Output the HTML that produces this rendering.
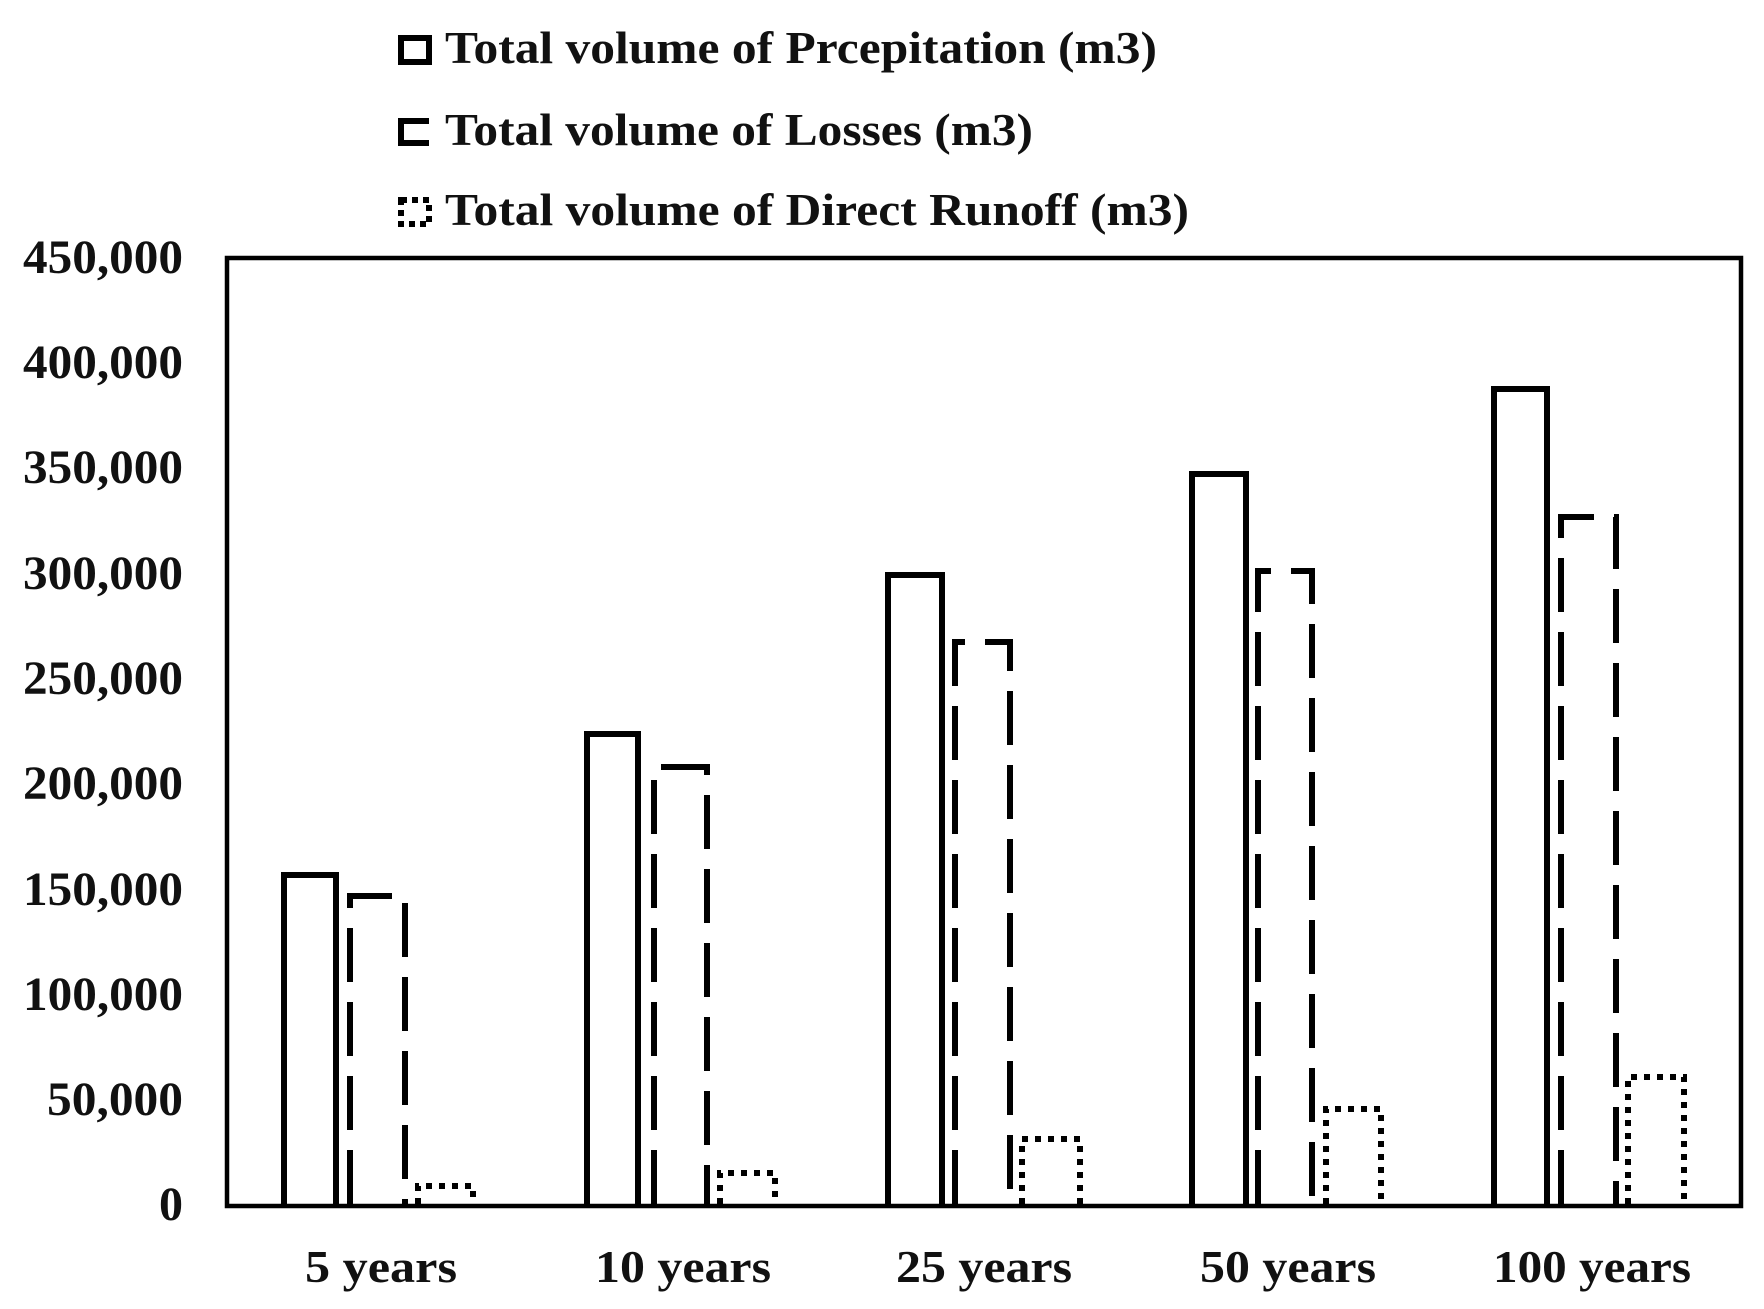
<!DOCTYPE html>
<html><head><meta charset="utf-8"><style>
html,body{margin:0;padding:0;background:#fff;}
svg{display:block;}
text{font-family:"Liberation Serif",serif;font-weight:bold;fill:#111;}
</style></head><body>
<svg width="1764" height="1309" viewBox="0 0 1764 1309" xmlns="http://www.w3.org/2000/svg">
<rect x="401" y="38" width="28" height="24" fill="none" stroke="#000" stroke-width="6"/>
<path d="M429 121 H401 V143 H429" fill="none" stroke="#000" stroke-width="6"/>
<rect x="401" y="200" width="28" height="24" fill="none" stroke="#000" stroke-width="6" stroke-dasharray="6 5"/>
<text x="445" y="63" font-size="45" textLength="712" lengthAdjust="spacingAndGlyphs">Total volume of Prcepitation (m3)</text>
<text x="445" y="145" font-size="45" textLength="588" lengthAdjust="spacingAndGlyphs">Total volume of Losses (m3)</text>
<text x="445" y="225" font-size="45" textLength="744" lengthAdjust="spacingAndGlyphs">Total volume of Direct Runoff (m3)</text>
<path d="M227 1206 V258 H1741 V1206 Z" fill="none" stroke="#000" stroke-width="4.5"/>
<g font-size="48" text-anchor="end">
<text x="183" y="273" textLength="160" lengthAdjust="spacingAndGlyphs">450,000</text>
<text x="183" y="378" textLength="160" lengthAdjust="spacingAndGlyphs">400,000</text>
<text x="183" y="483" textLength="160" lengthAdjust="spacingAndGlyphs">350,000</text>
<text x="183" y="589" textLength="160" lengthAdjust="spacingAndGlyphs">300,000</text>
<text x="183" y="694" textLength="160" lengthAdjust="spacingAndGlyphs">250,000</text>
<text x="183" y="799" textLength="160" lengthAdjust="spacingAndGlyphs">200,000</text>
<text x="183" y="905" textLength="160" lengthAdjust="spacingAndGlyphs">150,000</text>
<text x="183" y="1010" textLength="160" lengthAdjust="spacingAndGlyphs">100,000</text>
<text x="183" y="1115" textLength="136" lengthAdjust="spacingAndGlyphs">50,000</text>
<text x="183" y="1220">0</text>
</g>
<g font-size="46" text-anchor="middle">
<text x="381" y="1282" textLength="152" lengthAdjust="spacingAndGlyphs">5 years</text>
<text x="683" y="1282" textLength="176" lengthAdjust="spacingAndGlyphs">10 years</text>
<text x="984" y="1282" textLength="176" lengthAdjust="spacingAndGlyphs">25 years</text>
<text x="1288" y="1282" textLength="176" lengthAdjust="spacingAndGlyphs">50 years</text>
<text x="1592" y="1282" textLength="198" lengthAdjust="spacingAndGlyphs">100 years</text>
</g>
<g fill="none" stroke="#000" stroke-width="6">
<path d="M284 1204 V875 H336 V1204"/>
<path d="M587 1204 V734 H638 V1204"/>
<path d="M888 1204 V575 H942 V1204"/>
<path d="M1192 1204 V474 H1246 V1204"/>
<path d="M1494 1204 V389 H1547 V1204"/>
</g>
<g fill="none" stroke="#000" stroke-width="6" stroke-dasharray="54 20">
<path d="M350 1204 V896 H405 V1204"/>
<path d="M654 1204 V767 H707 V1204"/>
<path d="M955 1204 V642 H1010 V1204"/>
<path d="M1258 1204 V571 H1312 V1204"/>
<path d="M1561 1204 V517 H1616 V1204"/>
</g>
<g fill="none" stroke="#000" stroke-width="6" stroke-dasharray="6 7">
<path d="M418 1204 V1186 H473 V1204"/>
<path d="M720 1204 V1173 H775 V1204"/>
<path d="M1022 1204 V1139 H1080 V1204"/>
<path d="M1326 1204 V1109 H1381 V1204"/>
<path d="M1628 1204 V1077 H1684 V1204"/>
</g>
</svg>
</body></html>
